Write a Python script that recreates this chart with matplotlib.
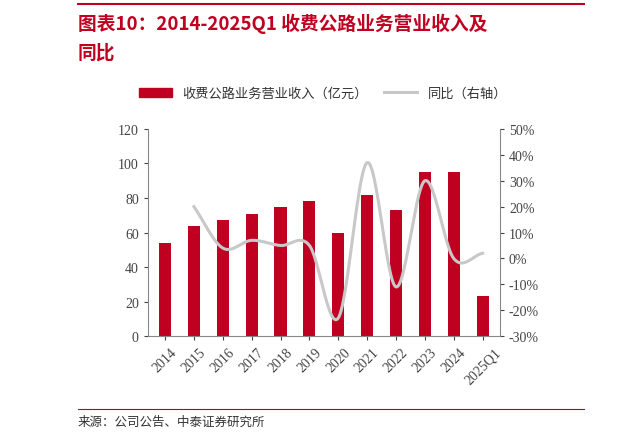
import numpy as np
import matplotlib.pyplot as plt
from matplotlib.lines import Line2D

plt.rcParams['font.family'] = ['Noto Sans CJK SC', 'DejaVu Sans']

years = ['2014', '2015', '2016', '2017', '2018', '2019', '2020', '2021', '2022', '2023', '2024', '2025Q1']
revenue = [54, 64, 67, 71, 75, 78, 60, 82, 73, 95, 95, 23]
yoy = [None, 20, 4, 7, 5, 5, -23, 37, -11, 30, 0, 2]

red = '#c00020'
grey = '#c8c8c8'

fig = plt.figure(figsize=(6.21, 4.39), dpi=100)
ax = fig.add_axes([0.238, 0.232, 0.567, 0.472])
x = np.arange(len(years))
ax.bar(x, revenue, width=0.42, color=red)
ax.set_ylim(0, 120)
ax.set_yticks(range(0, 121, 20))
ax.set_xlim(-0.6, len(years) - 0.4)
ax.set_xticks(x)
ax.set_xticklabels(years, rotation=45, fontsize=10, family=['Liberation Serif'])
for lab in ax.get_yticklabels():
    lab.set_fontsize(10)
    lab.set_family('Liberation Serif')
for s in ['top', 'right']:
    ax.spines[s].set_visible(False)
ax.spines['left'].set_color('#888888')
ax.spines['bottom'].set_color('#888888')
ax.tick_params(colors='#444444', length=3)

# smooth curve through the yoy points (cubic Hermite rendering)
px = np.array([i for i, v in enumerate(yoy) if v is not None], float)
py = np.array([v for v in yoy if v is not None], float)
m = np.gradient(py, px)
sx, sy = [], []
for i in range(len(px) - 1):
    t = np.linspace(0, 1, 30)
    h = px[i + 1] - px[i]
    h00 = 2 * t**3 - 3 * t**2 + 1
    h10 = t**3 - 2 * t**2 + t
    h01 = -2 * t**3 + 3 * t**2
    h11 = t**3 - t**2
    sx.extend(px[i] + t * h)
    sy.extend(h00 * py[i] + h10 * h * m[i] + h01 * py[i + 1] + h11 * h * m[i + 1])

ax2 = ax.twinx()
ax2.plot(sx, sy, color=grey, lw=2.2)
ax2.set_ylim(-30, 50)
ax2.set_yticks(range(-30, 51, 10))
ax2.set_yticklabels([f'{v}%' for v in range(-30, 51, 10)], fontsize=10, family=['Liberation Serif'])
for s in ['top', 'left', 'bottom']:
    ax2.spines[s].set_visible(False)
ax2.spines['right'].set_color('#888888')
ax2.tick_params(colors='#444444', length=3)

handles = [plt.Rectangle((0, 0), 1, 1, color=red), Line2D([0], [0], color=grey, lw=2.2)]
fig.legend(handles, ['收费公路业务营业收入（亿元）', '同比（右轴）'], loc='center',
           bbox_to_anchor=(0.52, 0.785), ncol=2, frameon=False, fontsize=9.5,
           handlelength=2.5, columnspacing=1.2, labelcolor='#333333')

fig.text(0.125, 0.945, '图表10：2014-2025Q1 收费公路业务营业收入及', color=red,
         fontsize=13.5, fontweight='bold', style='italic', va='center')
fig.text(0.125, 0.88, '同比', color=red, fontsize=13.5, fontweight='bold',
         style='italic', va='center')
fig.add_artist(Line2D([0.125, 0.94], [0.988, 0.988], color=red, lw=1.5))
fig.add_artist(Line2D([0.125, 0.94], [0.065, 0.065], color=red, lw=0.8))
fig.text(0.125, 0.038, '来源：公司公告、中泰证券研究所', fontsize=9, color='#333333', va='center')

fig.savefig('out.png', dpi=100)
